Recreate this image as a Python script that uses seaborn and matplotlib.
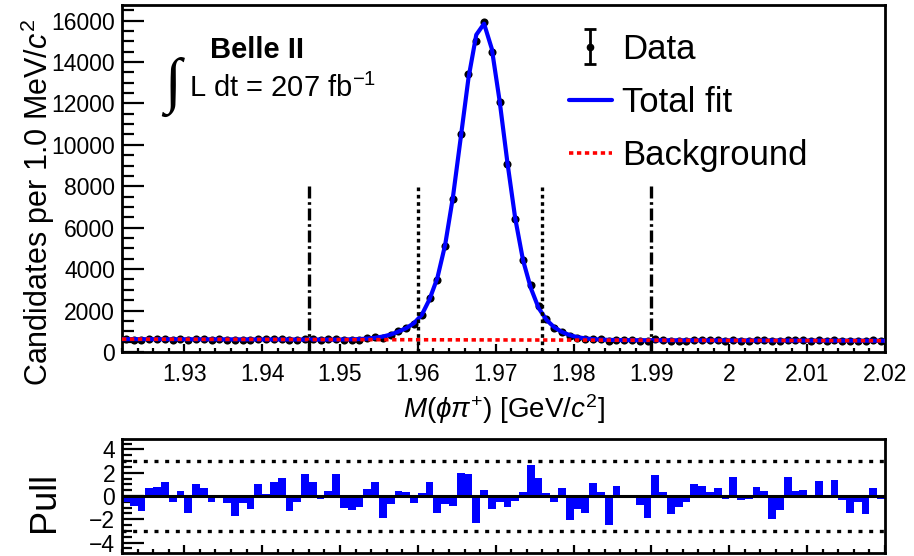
import numpy as np
import pandas as pd
import seaborn as sns
import matplotlib
matplotlib.use("Agg")
from matplotlib import pyplot as plt
from matplotlib.ticker import MultipleLocator
from matplotlib.lines import Line2D

# M(phi pi+) spectrum, 98 bins of 1 MeV between 1.922 and 2.020 GeV
x_lo, x_hi = 1.922, 2.020
n_bins = 98

data_counts = [
    606, 598, 586, 635, 637, 646, 603, 626, 579, 638,
    630, 599, 610, 594, 567, 592, 580, 632, 609, 635,
    642, 573, 591, 649, 632, 594, 610, 644, 580, 582,
    601, 662, 716, 695, 822, 996, 1164, 1368, 1801, 2606,
    3478, 5116, 7394, 10537, 13438, 15020, 15917, 14490, 12057, 9051,
    6422, 4464, 3240, 2199, 1569, 1181, 988, 757, 685, 617,
    646, 606, 524, 598, 573, 567, 550, 524, 610, 574,
    529, 542, 554, 588, 583, 570, 578, 554, 599, 550,
    553, 577, 566, 510, 527, 594, 563, 564, 553, 581,
    552, 582, 542, 515, 536, 510, 562, 538,
]

fit_counts = [
    620, 619, 618, 618, 617, 616, 615, 615, 614, 613,
    612, 612, 611, 610, 609, 608, 608, 607, 606, 605,
    605, 604, 603, 602, 602, 601, 600, 599, 605, 612,
    624, 646, 684, 746, 841, 983, 1152, 1392, 1791, 2547,
    3568, 5167, 7470, 10334, 13225, 15312, 15849, 14628, 12113, 9141,
    6457, 4439, 3093, 2129, 1558, 1198, 967, 816, 715, 655,
    619, 598, 584, 578, 571, 570, 569, 568, 568, 567,
    566, 565, 565, 564, 563, 562, 562, 561, 560, 559,
    558, 558, 557, 556, 555, 555, 554, 553, 552, 551,
    551, 550, 549, 548, 548, 547, 546, 545,
]

pull_values = [
    -0.55, -0.85, -1.28, 0.70, 0.80, 1.22, -0.48, 0.43, -1.42, 1.00,
    0.71, -0.51, -0.05, -0.63, -1.71, -0.63, -1.14, 1.00, 0.14, 1.22,
    1.51, -1.25, -0.48, 1.91, 1.22, -0.28, 0.40, 1.85, -1.03, -1.22,
    -0.94, 0.63, 1.22, -1.88, -0.66, 0.40, 0.34, -0.63, 0.23, 1.17,
    -1.50, -0.71, -0.88, 2.00, 1.85, -2.36, 0.54, -1.14, -0.51, -0.94,
    -0.43, 0.37, 2.65, 1.51, 0.28, -0.48, 0.66, -2.05, -1.14, -1.50,
    1.08, 0.34, -2.48, 0.85, 0.10, -0.14, -0.80, -1.85, 1.77, 0.31,
    -1.57, -0.97, -0.48, 1.00, 0.85, 0.34, 0.68, -0.28, 1.65, -0.37,
    -0.23, 0.80, 0.40, -1.94, -1.20, 1.65, 0.40, 0.48, 0.05, 1.28,
    0.05, 1.37, -0.31, -1.42, -0.51, -1.57, 0.68, -0.28,
]

bkg_ends = [620, 545]          # linear background at x_lo and x_hi
cut_outer = [1.946, 1.990]     # dash-dotted lines
cut_inner = [1.960, 1.976]     # dotted lines
cut_top = 8000
pull_band = [-3, 3]

edges = np.linspace(x_lo, x_hi, n_bins + 1)
centers = 0.5 * (edges[:-1] + edges[1:])
df = pd.DataFrame({"mass": centers, "data": data_counts,
                   "fit": fit_counts, "pull": pull_values})
df["err"] = np.sqrt(df["data"])

curve = pd.DataFrame({"mass": np.r_[x_lo, centers, x_hi],
                      "fit": np.r_[fit_counts[0], fit_counts, fit_counts[-1]]})
bkg = pd.DataFrame({"mass": [x_lo, x_hi], "bkg": bkg_ends})

sns.set_theme(style="ticks")
plt.rcParams["font.family"] = ["Liberation Sans", "DejaVu Sans"]
plt.rcParams["mathtext.fontset"] = "custom"
plt.rcParams["mathtext.rm"] = "Liberation Sans"
plt.rcParams["mathtext.it"] = "Liberation Sans:italic"
plt.rcParams["mathtext.bf"] = "Liberation Sans:bold"
plt.rcParams["text.color"] = "black"
plt.rcParams["axes.labelcolor"] = "black"
plt.rcParams["xtick.color"] = "black"
plt.rcParams["ytick.color"] = "black"

fig = plt.figure(figsize=(9.14, 5.56), dpi=100)
ax = fig.add_axes([0.1335, 0.3669, 0.8348, 0.6241])
axp = fig.add_axes([0.1335, 0.0054, 0.8348, 0.205])

# main panel
ax.errorbar(df["mass"], df["data"], yerr=df["err"], fmt="none",
            ecolor="black", elinewidth=1.5, zorder=2)
sns.scatterplot(data=df, x="mass", y="data", color="black", s=34,
                linewidth=0, ax=ax, zorder=3, legend=False)
sns.lineplot(data=curve, x="mass", y="fit", color="#0000ff", lw=3,
             ax=ax, zorder=4)
sns.lineplot(data=bkg, x="mass", y="bkg", color="#ff0000", lw=2.6,
             linestyle=(0, (1.2, 1.0)), ax=ax, zorder=5)
ax.vlines(cut_outer, 0, cut_top, colors="black", lw=2.4,
          linestyles=[(0, (3.6, 1.1, 0.8, 1.1))], zorder=6)
ax.vlines(cut_inner, 0, cut_top, colors="black", lw=2.4,
          linestyles=[(0, (1.1, 1.1))], zorder=6)

ax.set_xlim(x_lo, x_hi)
ax.set_ylim(0, 16750)
ax.xaxis.set_minor_locator(MultipleLocator(0.002))
ax.yaxis.set_major_locator(MultipleLocator(2000))
ax.yaxis.set_minor_locator(MultipleLocator(500))
ax.set_xticks([1.93, 1.94, 1.95, 1.96, 1.97, 1.98, 1.99, 2.0, 2.01, 2.02])
ax.set_xticklabels(["1.93", "1.94", "1.95", "1.96", "1.97", "1.98",
                    "1.99", "2", "2.01", "2.02"])
ax.tick_params(axis="both", which="both", direction="in", labelsize=16.5,
               colors="black", width=1.6)
ax.tick_params(axis="x", which="major", length=6, pad=8)
ax.tick_params(axis="x", which="minor", length=3)
ax.tick_params(axis="y", which="major", length=16, pad=5)
ax.tick_params(axis="y", which="minor", length=8.5)
for s in ax.spines.values():
    s.set_linewidth(2.0)
    s.set_color("black")

ax.set_xlabel(r"$M(\phi\pi^{+})$ [GeV/$c^{2}$]", fontsize=20)
ax.set_ylabel(r"Candidates per 1.0 MeV/$c^{2}$", fontsize=22)
ax.xaxis.set_label_coords(0.5, -0.115)
ax.yaxis.set_label_coords(-0.085, 0.43)

# legend
ax.errorbar([np.nan], [np.nan], yerr=[1], fmt="o", color="black", ms=4.5,
            elinewidth=2, capsize=4, capthick=2, label="Data")
h, l = ax.get_legend_handles_labels()
handles = [h[-1],
           Line2D([], [], color="#0000ff", lw=3),
           Line2D([], [], color="#ff0000", lw=2.6, linestyle=(0, (1.2, 1.0)))]
ax.legend(handles, ["Data", "Total fit", "Background"], loc="upper left",
          bbox_to_anchor=(0.567, 0.96), frameon=False, fontsize=25,
          handlelength=1.25, handletextpad=0.3, labelspacing=0.58,
          borderaxespad=0)

ax.text(0.115, 0.848, "Belle II", transform=ax.transAxes, fontsize=21,
        fontweight="bold", ha="left", va="baseline")
ax.text(0.088, 0.735, r"L dt = 207 fb$^{-1}$", transform=ax.transAxes,
        fontsize=21, ha="left", va="baseline")
ax.text(0.066, 0.765, "\u222b", transform=ax.transAxes, fontsize=44,
        ha="center", va="center", family=["Liberation Serif", "DejaVu Serif"])

# pull panel
sns.barplot(data=df, x="mass", y="pull", native_scale=True, orient="x",
            color="#0000ff", saturation=1, errorbar=None, width=1,
            linewidth=0, ax=axp)
axp.axhline(0, color="black", lw=2.2)
for yb in pull_band:
    axp.axhline(yb, color="black", lw=2.4, linestyle=(0, (1.2, 2.0)))
axp.set_xlim(x_lo, x_hi)
axp.set_ylim(-4.9, 4.9)
axp.xaxis.set_major_locator(MultipleLocator(0.01))
axp.xaxis.set_minor_locator(MultipleLocator(0.002))
axp.yaxis.set_major_locator(MultipleLocator(2))
axp.yaxis.set_minor_locator(MultipleLocator(0.5))
axp.tick_params(axis="both", which="both", direction="in", labelsize=16.5,
                colors="black", width=1.6)
axp.tick_params(axis="x", labelbottom=False)
axp.tick_params(axis="x", which="major", length=6)
axp.tick_params(axis="x", which="minor", length=3)
axp.tick_params(axis="y", which="major", length=16, pad=5)
axp.tick_params(axis="y", which="minor", length=7)
for s in axp.spines.values():
    s.set_linewidth(2.0)
    s.set_color("black")
axp.set_xlabel("")
axp.set_ylabel("Pull", fontsize=26)
axp.yaxis.set_label_coords(-0.079, 0.45)

fig.savefig("out.png", dpi=100)
